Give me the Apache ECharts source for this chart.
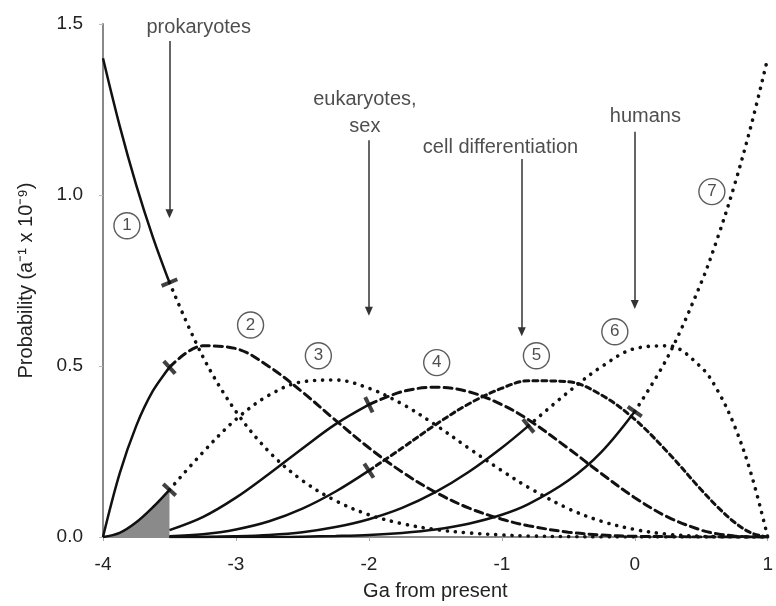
<!DOCTYPE html>
<html>
<head>
<meta charset="utf-8">
<title>Hard steps timing</title>
<script src="https://cdn.jsdelivr.net/npm/echarts@6/dist/echarts.min.js"></script>
<style>
  html, body { margin: 0; padding: 0; background: #fff; }
  #chart { width: 776px; height: 606px; }
</style>
</head>
<body>
<div id="chart"></div>
<script>
var gaX = [-4, -3.875, -3.75, -3.625, -3.5, -3.25, -3, -2.75, -2.5, -2.25, -2, -1.75, -1.5, -1.25, -1, -0.8, -0.5, -0.25, 0, 0.25, 0.5, 0.625, 0.75, 0.875, 1];

// probability (a^-1 x 10^-9) of each step, same positions as gaX
var step1 = [1.4, 1.203, 1.029, 0.877, 0.744, 0.528, 0.367, 0.249, 0.165, 0.106, 0.065, 0.039, 0.022, 0.012, 0.006, 0.003, 0.001, 0, 0, 0, 0, 0, 0, 0, 0];
var step2 = [0, 0.185, 0.325, 0.427, 0.496, 0.559, 0.551, 0.498, 0.424, 0.341, 0.261, 0.190, 0.131, 0.085, 0.052, 0.033, 0.014, 0.006, 0.002, 0.001, 0, 0, 0, 0, 0];
var step3 = [0, 0.012, 0.043, 0.087, 0.138, 0.247, 0.344, 0.415, 0.454, 0.459, 0.435, 0.389, 0.328, 0.260, 0.194, 0.145, 0.083, 0.046, 0.022, 0.008, 0.002, 0.001, 0, 0, 0];
var step4 = [0, 0, 0.003, 0.009, 0.020, 0.058, 0.115, 0.185, 0.259, 0.330, 0.387, 0.425, 0.438, 0.425, 0.387, 0.343, 0.259, 0.185, 0.115, 0.058, 0.020, 0.009, 0.003, 0, 0];
var step5 = [0, 0, 0, 0, 0.002, 0.008, 0.022, 0.046, 0.083, 0.133, 0.194, 0.260, 0.328, 0.389, 0.435, 0.457, 0.454, 0.415, 0.344, 0.247, 0.138, 0.087, 0.043, 0.012, 0];
var step6 = [0, 0, 0, 0, 0, 0, 0.002, 0.006, 0.014, 0.029, 0.052, 0.085, 0.131, 0.190, 0.261, 0.325, 0.424, 0.498, 0.551, 0.559, 0.496, 0.427, 0.325, 0.185, 0];
var step7 = [0, 0, 0, 0, 0, 0, 0, 0, 0.001, 0.003, 0.006, 0.012, 0.022, 0.039, 0.065, 0.096, 0.165, 0.249, 0.367, 0.528, 0.744, 0.877, 1.029, 1.203, 1.4];

var stepLabels = ['1', '2', '3', '4', '5', '6', '7'];
// solid part of each curve (observed), the rest is drawn broken
var solidStart = [-4, -4, -4, -3.5, -3.5, -3.5, -3.5];
var solidEnd = [-3.5, -3.5, -3.5, -2, -2, -0.8, 0];

var eventNames = ['prokaryotes', 'eukaryotes,\nsex', 'cell differentiation', 'humans'];
var arrowX = [-3.5, -2, -0.85, 0];
var arrowTop = [1.45, 1.16, 1.105, 1.185];
var arrowBottom = [0.945, 0.66, 0.6, 0.68];
var eventLabelPos = [[-3.28, 1.49], [-2.03, 1.24], [-1.01, 1.14], [0.08, 1.23]];

var circlePos = [[-3.82, 0.91], [-2.89, 0.62], [-2.38, 0.53], [-1.49, 0.51], [-0.74, 0.53], [-0.15, 0.60], [0.58, 1.01]];

var xTicks = [-4, -3, -2, -1, 0, 1];

var font = 'Liberation Sans, Arial, sans-serif';
var ink = '#111';
var textInk = '#222';
var dotted = [0.1, 8];
var dashed = [8, 5];
var shortDash = [5, 4];
var restType = [dotted, dashed, dotted, dashed, shortDash, dotted, dotted];

var curves = [step1, step2, step3, step4, step5, step6, step7];

function pick(ys, from, to) {
    var out = [];
    gaX.forEach(function (x, i) {
        if (x >= from - 1e-9 && x <= to + 1e-9) out.push([x, ys[i]]);
    });
    return out;
}

var chart = echarts.init(document.getElementById('chart'));

var series = [];
curves.forEach(function (ys, k) {
    var solid = {
        type: 'line',
        data: pick(ys, solidStart[k], solidEnd[k]),
        smooth: 0.35,
        showSymbol: false,
        lineStyle: { color: ink, width: 2.5 },
        z: 4
    };
    if (k === 2) solid.areaStyle = { color: '#8a8a8a', opacity: 1 };
    series.push(solid);
    series.push({
        type: 'line',
        data: pick(ys, solidEnd[k], 1),
        smooth: 0.35,
        showSymbol: false,
        lineStyle: { color: ink, width: restType[k] === dotted ? 3.6 : 3, type: restType[k], cap: 'round' },
        z: 3
    });
});

var marks = curves.map(function (ys, k) {
    var i = gaX.indexOf(solidEnd[k]);
    return [solidEnd[k], ys[i]];
});

series.push({
    id: 'marks',
    type: 'scatter',
    symbol: 'rect',
    symbolSize: [4, 17],
    itemStyle: { color: ink },
    data: marks,
    z: 5
});

series.push({
    type: 'scatter',
    symbolSize: 0,
    data: eventLabelPos.map(function (p, i) { return { name: eventNames[i], value: p }; }),
    label: {
        show: true, position: 'inside', formatter: '{b}',
        fontSize: 20, lineHeight: 27, color: textInk, fontFamily: font
    },
    markLine: {
        silent: true,
        symbol: ['none', 'triangle'],
        symbolSize: [8, 9],
        label: { show: false },
        lineStyle: { color: '#333', width: 1.5, type: 'solid' },
        data: arrowX.map(function (x, i) {
            return [{ coord: [x, arrowTop[i]] }, { coord: [x, arrowBottom[i]] }];
        })
    },
    z: 6
});

series.push({
    type: 'scatter',
    symbol: 'circle',
    symbolSize: 26,
    itemStyle: { color: '#fff', borderColor: '#333', borderWidth: 1.4 },
    data: circlePos.map(function (p, i) { return { name: stepLabels[i], value: p }; }),
    label: {
        show: true, position: 'inside', formatter: '{b}',
        fontSize: 17, color: textInk, fontFamily: font
    },
    z: 6
});

var option = {
    animation: false,
    backgroundColor: '#fff',
    grid: { left: 103, right: 2, top: 24, bottom: 66 },
    xAxis: {
        type: 'value', min: -4, max: 1, interval: 1,
        name: 'Ga from present', nameLocation: 'middle', nameGap: 44,
        nameTextStyle: { fontSize: 20, color: textInk, fontFamily: font },
        axisLine: { onZero: false, lineStyle: { color: '#666', width: 1.5 } },
        axisTick: { show: true, length: 4, lineStyle: { color: '#aaa' } },
        axisLabel: {
            margin: 18, fontSize: 19, color: textInk, fontFamily: font,
            customValues: xTicks
        },
        splitLine: { show: false }
    },
    yAxis: {
        type: 'value', min: 0, max: 1.5, interval: 0.5,
        name: 'Probability (a⁻¹ x 10⁻⁹)', nameLocation: 'middle', nameGap: 67,
        nameTextStyle: { fontSize: 20, color: textInk, fontFamily: font },
        axisLine: { show: true, onZero: false, lineStyle: { color: '#888', width: 2 } },
        axisTick: { show: true, length: 4, lineStyle: { color: '#bbb' } },
        axisLabel: {
            margin: 20, fontSize: 19, color: textInk, fontFamily: font,
            formatter: function (v) { return v.toFixed(1); }
        },
        splitLine: { show: false }
    },
    series: series
};
chart.setOption(option);

// turn each event mark across its curve
var rot = curves.map(function (ys, k) {
    var i = gaX.indexOf(solidEnd[k]);
    var a = chart.convertToPixel({ gridIndex: 0 }, [gaX[i - 1], ys[i - 1]]);
    var b = chart.convertToPixel({ gridIndex: 0 }, [gaX[i + 1], ys[i + 1]]);
    return Math.atan2(-(b[1] - a[1]), b[0] - a[0]) * 180 / Math.PI;
});
chart.setOption({
    series: [{
        id: 'marks',
        data: marks.map(function (m, k) { return { value: m, symbolRotate: rot[k] }; })
    }]
});
</script>
</body>
</html>
